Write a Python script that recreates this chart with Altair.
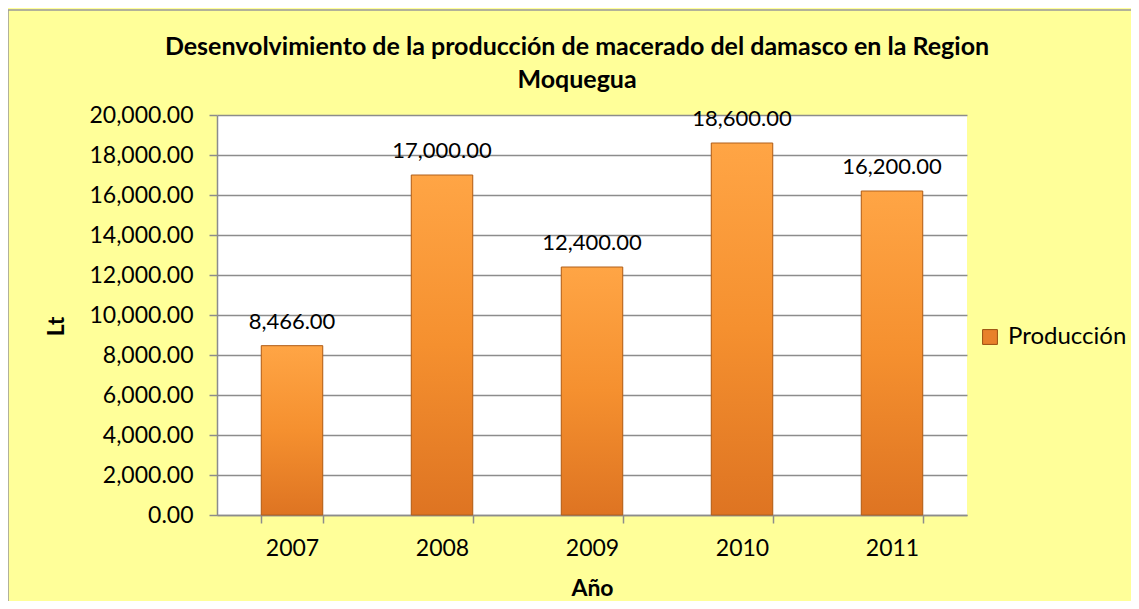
import altair as alt
import pandas as pd

years = ["2007", "2008", "2009", "2010", "2011"]
values = [8466.00, 17000.00, 12400.00, 18600.00, 16200.00]
series = ["Producción"] * 5
y_ticks = [0, 2000, 4000, 6000, 8000, 10000, 12000, 14000, 16000, 18000, 20000]

df = pd.DataFrame({"year": years, "value": values, "serie": series})

FONT = "Lato"
W, H = 750, 400

x_enc = alt.X("year:N", title="Año", sort=years,
              scale=alt.Scale(paddingInner=0.59, paddingOuter=0.295),
              axis=alt.Axis(labelAngle=0, tickBand="extent", tickSize=8,
                            labelFontSize=23, labelFont=FONT, labelColor="#000",
                            labelPadding=14, titleFont=FONT, titleFontSize=23,
                            titleFontWeight="bold", titleColor="#000", titlePadding=17,
                            domainColor="#8c8c8c", tickColor="#8c8c8c", domainWidth=1.5, tickWidth=1.5))
y_enc = alt.Y("value:Q", title="Lt",
              scale=alt.Scale(domain=[0, 20000], nice=False),
              axis=alt.Axis(values=y_ticks, format=",.2f", tickSize=8,
                            labelFontSize=23, labelFont=FONT, labelColor="#000",
                            labelPadding=16, gridColor="#8c8c8c", gridWidth=1.5,
                            domainColor="#8c8c8c", tickColor="#8c8c8c", domainWidth=1.5, tickWidth=1.5,
                            titleFont=FONT, titleFontSize=23, titleFontWeight="bold",
                            titleColor="#000", titleX=-161, titleY=211,
                            titleAlign="center", titleBaseline="middle", titleAngle=270))

legend_bars = alt.Chart(df).mark_bar().encode(
    x=x_enc, y=y_enc,
    color=alt.Color("serie:N", scale=alt.Scale(range=["#E8802A"]),
                    legend=alt.Legend(title=None, orient="none", legendX=761, legendY=210,
                                      symbolType="square", symbolSize=220,
                                      symbolStrokeColor="#9a4e10", symbolStrokeWidth=1,
                                      labelFont=FONT, labelFontSize=24, labelColor="#000",
                                      labelLimit=300, labelOffset=6)),
)

grad = alt.LinearGradient(
    gradient="linear", x1=0, y1=0, x2=0, y2=1,
    stops=[alt.GradientStop(color="#FFA545", offset=0),
           alt.GradientStop(color="#F5902F", offset=0.5),
           alt.GradientStop(color="#DE7422", offset=1)],
)
grad_bars = alt.Chart(df).mark_bar(stroke="#B0601C", strokeWidth=1).encode(
    x=x_enc, y=y_enc, fill=alt.value(grad)
)

labels = alt.Chart(df).mark_text(font=FONT, fontSize=22, color="#000", dy=-17,
                                 baseline="alphabetic").encode(
    x=x_enc, y=y_enc, text=alt.Text("value:Q", format=",.2f")
)

border = alt.Chart(pd.DataFrame({"a": [0]})).mark_rect(fill=None, stroke="#999999", strokeWidth=1.5).encode(
    x=alt.value(-209), x2=alt.value(W + 400), y=alt.value(-105), y2=alt.value(H + 300)
)

chart = alt.layer(legend_bars, grad_bars, labels, border).properties(
    width=W, height=H,
    title=alt.TitleParams(
        ["Desenvolvimiento de la producción de macerado del damasco en la Region", "Moquegua"],
        font=FONT, fontSize=25, fontWeight="bold", color="#000", anchor="middle",
        frame="group", dx=-15, offset=14, dy=98, lineHeight=33),
    autosize=alt.AutoSizeParams(type="none"),
    padding={"left": 209, "top": 107, "right": 164, "bottom": 86},
    background="#FFFF99",
).configure_view(fill="white", stroke=None)

chart.save("out.html", embed_options={"renderer": "svg", "actions": False})
